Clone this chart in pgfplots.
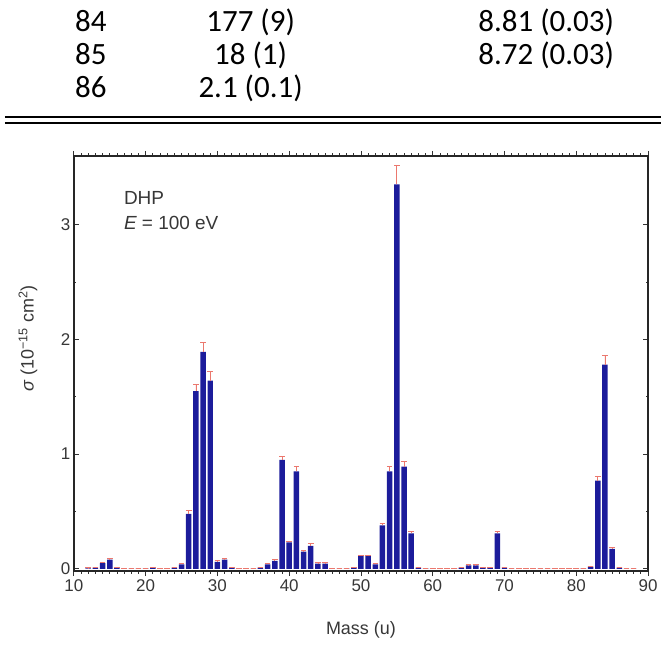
\documentclass[border=0pt]{standalone}
\usepackage{pgfplots}
\pgfplotsset{compat=1.18}
\usepackage{pgfplotstable}
\usepackage{fontspec}
\setmainfont{Liberation Sans}
\newfontfamily\calibri{Carlito}
\definecolor{barblue}{RGB}{28,28,155}
\definecolor{errred}{RGB}{235,120,110}
\definecolor{txt}{RGB}{55,55,55}

\pgfplotstableread{
m v e
12 0.005 0.004
13 0.010 0.004
14 0.050 0.010
15 0.080 0.010
16 0.010 0.004
17 0.003 0.002
18 0.002 0.002
19 0.003 0.002
20 0.005 0.003
21 0.010 0.005
22 0.003 0.002
23 0.003 0.002
24 0.010 0.004
25 0.040 0.008
26 0.480 0.030
27 1.550 0.060
28 1.890 0.080
29 1.640 0.080
30 0.060 0.010
31 0.080 0.010
32 0.010 0.004
33 0.003 0.002
34 0.003 0.002
35 0.003 0.002
36 0.010 0.004
37 0.040 0.008
38 0.070 0.010
39 0.950 0.030
40 0.230 0.010
41 0.850 0.040
42 0.150 0.010
43 0.200 0.020
44 0.045 0.008
45 0.045 0.008
46 0.005 0.003
47 0.003 0.002
48 0.005 0.003
49 0.010 0.004
50 0.110 0.010
51 0.110 0.010
52 0.040 0.008
53 0.380 0.020
54 0.850 0.040
55 3.350 0.170
56 0.890 0.050
57 0.310 0.015
58 0.010 0.004
59 0.005 0.003
60 0.003 0.002
61 0.003 0.002
62 0.005 0.003
63 0.005 0.003
64 0.010 0.004
65 0.030 0.006
66 0.030 0.006
67 0.010 0.004
68 0.010 0.004
69 0.310 0.020
70 0.010 0.004
71 0.003 0.002
72 0.003 0.002
73 0.003 0.002
74 0.003 0.002
75 0.003 0.002
76 0.003 0.002
77 0.003 0.002
78 0.003 0.002
79 0.003 0.002
80 0.003 0.002
81 0.005 0.003
82 0.020 0.005
83 0.770 0.040
84 1.780 0.080
85 0.175 0.010
86 0.010 0.004
87 0.003 0.002
88 0.003 0.002
}\datatable

\begin{document}
\begin{tikzpicture}
\path (0pt,0pt) rectangle (662pt,-646pt);
% table fragment
\begin{scope}[every node/.style={font=\calibri\fontsize{31}{31}\selectfont, anchor=base, inner sep=0pt}]
\node at (91pt,-32pt) {84};
\node at (251pt,-32pt) {177 (9)};
\node at (547pt,-32pt) {8.81 (0.03)};
\node at (91pt,-65pt) {85};
\node at (251pt,-65pt) {18 (1)};
\node at (547pt,-65pt) {8.72 (0.03)};
\node at (91pt,-98pt) {86};
\node at (251pt,-98pt) {2.1 (0.1)};
\end{scope}
\draw[line width=2pt] (5pt,-117pt) -- (662pt,-117pt);
\draw[line width=2pt] (5pt,-123pt) -- (662pt,-123pt);

\begin{axis}[
  scale only axis, width=575pt, height=416pt,
  anchor=south west, at={(74pt,-572pt)},
  axis lines=box,
  xmin=10, xmax=90, ymin=-0.02, ymax=3.6,
  xtick={10,20,...,90}, minor x tick num=9,
  ytick={0,1,2,3}, minor y tick num=1,
  tick align=inside, major tick length=5pt, minor tick length=2.5pt,
  tick style={black!80, line width=0.8pt},
  axis line style={black!85, line width=1.6pt},
  ybar, bar width=5.5pt,
  /pgf/number format/assume math mode=true,
  ticklabel style={font=\fontsize{17}{17}\selectfont, text=txt},
  label style={font=\fontsize{18}{18}\selectfont, text=txt},
  xlabel={Mass (u)},
  ylabel={{\itshape σ} (10\textsuperscript{−15} cm\textsuperscript{2})},
  xlabel style={at={(axis description cs:0.5,-0.142)}, anchor=center},
  ylabel style={at={(axis description cs:-0.08,0.56)}, anchor=center},
]
\addplot[fill=barblue, draw=none,
  error bars/.cd, y dir=plus, y explicit,
  error bar style={errred, line width=0.7pt},
  error mark options={errred, rotate=90, mark size=2.8pt, line width=0.7pt}]
  table[x=m, y=v, y error=e] {\datatable};
\end{axis}
\draw[black!85, line width=1.6pt] (74pt,-572pt) -- (74pt,-156pt) -- (649pt,-156pt) -- (649pt,-572pt) -- cycle;
\node[anchor=base west, font=\fontsize{19}{19}\selectfont, text=txt, inner sep=0pt] at (124pt,-205pt) {DHP};
\node[anchor=base west, font=\fontsize{19}{19}\selectfont, text=txt, inner sep=0pt] at (124pt,-230pt) {{\itshape E} = 100 eV};
\end{tikzpicture}
\end{document}
